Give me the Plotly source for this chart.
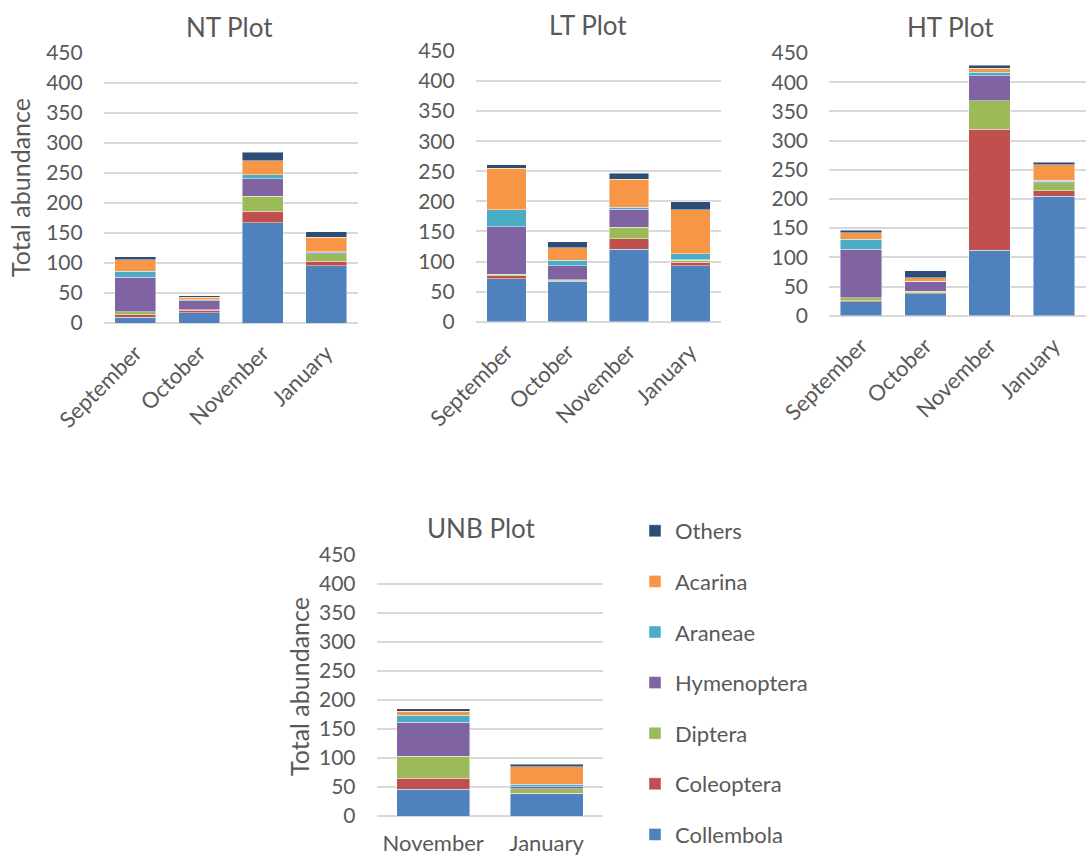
import plotly.graph_objects as go

# Taxa (stacking order, bottom to top) and their colours
taxa = ["Collembola", "Coleoptera", "Diptera", "Hymenoptera", "Araneae", "Acarina", "Others"]
colors = ["#4F81BD", "#C0504D", "#9BBB59", "#8064A2", "#4BACC6", "#F79646", "#2C4D75"]

months = ["September", "October", "November", "January"]
months_unb = ["November", "January"]

# Abundance per taxon (rows follow `taxa`), one column per sampling month
nt_values = [
    [10, 17, 167, 95],
    [4, 4, 19, 8],
    [5, 1, 25, 12],
    [57, 15, 29, 2],
    [10, 2, 7, 2],
    [19, 4, 23, 24],
    [5, 2, 14, 9],
]
lt_values = [
    [71, 67, 120, 93],
    [5, 1, 18, 6],
    [3, 2, 19, 3],
    [79, 23, 30, 1],
    [28, 9, 3, 10],
    [69, 21, 47, 73],
    [6, 10, 10, 13],
]
ht_values = [
    [24, 38, 112, 205],
    [2, 1, 207, 9],
    [5, 3, 49, 14],
    [83, 16, 43, 2],
    [17, 1, 6, 2],
    [11, 6, 7, 27],
    [4, 12, 5, 4],
]
unb_values = [
    [46, 38],
    [19, 1],
    [38, 8],
    [58, 3],
    [12, 5],
    [7, 30],
    [5, 4],
]

W, H = 1086, 856
FONT = "Lato"
GREY = "#595959"
GRID = "#D9D9D9"


def px_x(a, b):
    return [a / W, min(b / W, 1.0)]


def px_y(top, bottom):
    return [1 - bottom / H, 1 - top / H]


panels = [
    # name, axis id, categories, values, x px, y px (top, bottom), title centre x, rotated labels
    ("NT Plot", "", months, nt_values, (103.7, 358.0), (52.5, 323.0), 229.5, True),
    ("LT Plot", "2", months, lt_values, (475.7, 721.0), (50.6, 321.7), 587.5, True),
    ("HT Plot", "3", months, ht_values, (829.0, 1086.0), (52.7, 315.7), 950.0, True),
    ("UNB Plot", "4", months_unb, unb_values, (376.5, 603.3), (554.3, 816.0), 481.0, False),
]

fig = go.Figure()
layout = {}
annotations = []

for p, (title, ax, cats, vals, xpx, ypx, tx, rotated) in enumerate(panels):
    for i, taxon in enumerate(taxa):
        fig.add_trace(go.Bar(
            x=cats, y=vals[i], name=taxon,
            marker=dict(color=colors[i], line=dict(color="rgba(255,255,255,0.55)", width=0.8)),
            xaxis="x" + ax, yaxis="y" + ax,
            legendgroup=taxon, legendrank=len(taxa) - i,
            showlegend=(p == 0),
        ))
    layout["xaxis" + ax] = dict(
        domain=px_x(*xpx), anchor="y" + ax, automargin=False,
        showline=False, showgrid=False, ticks="",
        tickangle=-45 if rotated else 0,
        ticklabelstandoff=12,
        tickfont=dict(family=FONT, size=22, color=GREY),
        fixedrange=True,
    )
    layout["yaxis" + ax] = dict(
        domain=px_y(*ypx), anchor="x" + ax, automargin=False,
        range=[0, 450.5], dtick=50, tick0=0,
        showgrid=True, gridcolor=GRID, gridwidth=1.5,
        zeroline=True, zerolinecolor=GRID, zerolinewidth=1.5,
        showline=False, ticks="", ticklabelstandoff=20,
        tickfont=dict(family=FONT, size=21, color=GREY),
        fixedrange=True,
    )
    annotations.append(dict(
        text=title, xref="paper", yref="paper",
        x=tx / W, y=1 - (ypx[0] - 26) / H,
        showarrow=False, xanchor="center", yanchor="middle",
        font=dict(family=FONT, size=26, color=GREY),
    ))

# Vertical axis titles on the left-hand panels
for xc, yc in [(20, 188), (299, 687)]:
    annotations.append(dict(
        text="Total abundance", xref="paper", yref="paper",
        x=xc / W, y=1 - yc / H, textangle=-90,
        showarrow=False, xanchor="center", yanchor="middle",
        font=dict(family=FONT, size=25, color=GREY),
    ))

fig.update_layout(
    width=W, height=H,
    margin=dict(l=0, r=0, t=0, b=0, autoexpand=False),
    paper_bgcolor="white", plot_bgcolor="white",
    barmode="stack", bargap=0.355,
    annotations=annotations,
    legend=dict(
        x=635 / W, y=1 - 510 / H, xanchor="left", yanchor="top",
        traceorder="grouped", tracegroupgap=19,
        font=dict(family=FONT, size=22, color=GREY),
        bgcolor="rgba(0,0,0,0)",
    ),
    **layout,
)

fig.write_html("out.html")
